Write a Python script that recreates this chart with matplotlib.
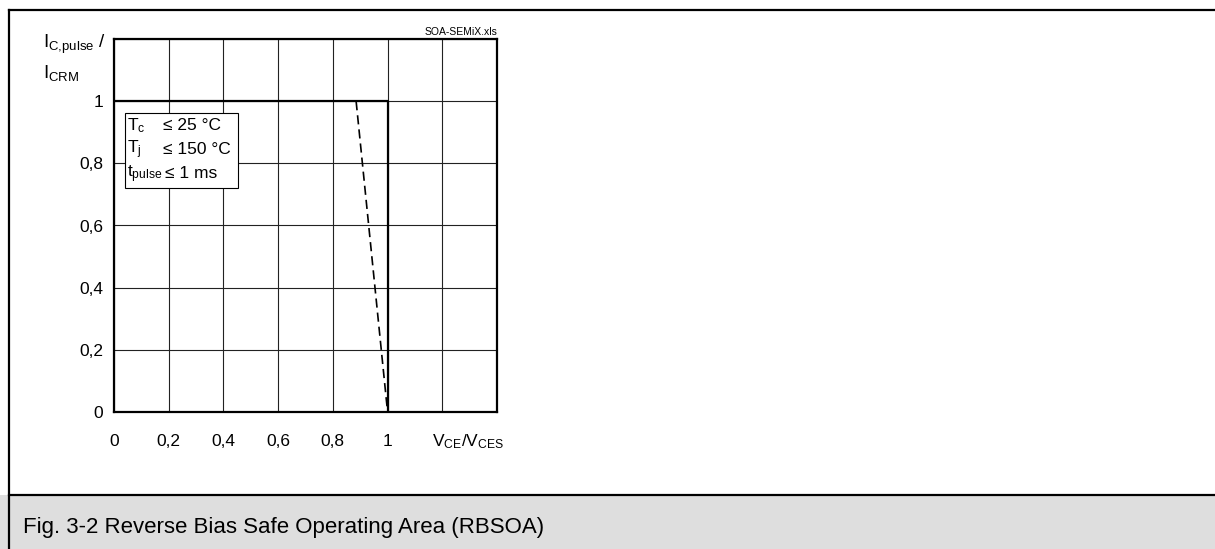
import matplotlib
matplotlib.use("Agg")
import matplotlib.pyplot as plt
from matplotlib.patches import Rectangle
from matplotlib.lines import Line2D

plt.rcParams['font.family'] = ['Liberation Sans', 'DejaVu Sans']
plt.rcParams['mathtext.fontset'] = 'custom'
plt.rcParams['mathtext.rm'] = 'Liberation Sans'
plt.rcParams['mathtext.it'] = 'Liberation Sans'

# RBSOA-Grenze (durchgezogen) und Linie (gestrichelt)
rbsoa_v = [0.0, 1.0, 1.0]
rbsoa_i = [1.0, 1.0, 0.0]
dash_v = [0.885, 1.0]
dash_i = [1.0, 0.0]

x_ticks = [0, 0.2, 0.4, 0.6, 0.8, 1.0, 1.2, 1.4]
x_labels = ["0", "0,2", "0,4", "0,6", "0,8", "1", "", ""]
y_ticks = [0, 0.2, 0.4, 0.6, 0.8, 1.0, 1.2]
y_labels = ["0", "0,2", "0,4", "0,6", "0,8", "1", ""]

W, H = 1215, 549
FS = 12.5
fig = plt.figure(figsize=(W / 100, H / 100), dpi=100)

# Rahmen und Bildunterschrift
fig.patches.append(Rectangle((0, 0), 1, 54 / H, transform=fig.transFigure,
                             facecolor="#dedede", edgecolor="none", zorder=0))
fig.lines.append(Line2D([9 / W, 1], [54 / H, 54 / H], transform=fig.transFigure,
                        color="black", lw=1.6))
fig.lines.append(Line2D([9 / W, 1], [1 - 10 / H, 1 - 10 / H], transform=fig.transFigure,
                        color="black", lw=1.6))
fig.lines.append(Line2D([9 / W, 9 / W], [0, 1 - 10 / H], transform=fig.transFigure,
                        color="black", lw=1.6))
fig.text(23 / W, 22 / H, "Fig. 3-2 Reverse Bias Safe Operating Area (RBSOA)",
         fontsize=16, va="center", ha="left")

ax = fig.add_axes([114 / W, (H - 412) / H, 383 / W, 373 / H])
ax.plot(rbsoa_v, rbsoa_i, color="black", lw=1.6, zorder=3)
ax.plot(dash_v, dash_i, color="black", lw=1.2, ls=(0, (5.5, 3)), zorder=3)

ax.set_xlim(0, 1.4)
ax.set_ylim(0, 1.2)
ax.set_xticks(x_ticks)
ax.set_xticklabels(x_labels)
ax.set_yticks(y_ticks)
ax.set_yticklabels(y_labels)
ax.tick_params(length=0, labelsize=FS)
ax.tick_params(axis="x", pad=15.5)
ax.tick_params(axis="y", pad=8)
ax.grid(True, color="#222222", lw=0.8)
ax.set_axisbelow(True)
for s in ax.spines.values():
    s.set_linewidth(1.6)

# Achsenbeschriftungen
ax.text((468 - 114) / 383, -30 / 373, r"V$_\mathregular{CE}$/V$_\mathregular{CES}$",
        transform=ax.transAxes, fontsize=FS, ha="center", va="center")
ax.text(-71 / 383, 1 - 5 / 373, r"I$_\mathregular{C{,}pulse}$ /",
        transform=ax.transAxes, fontsize=13.5, ha="left", va="center")
ax.text(-71 / 383, 1 - 34 / 373, r"I$_\mathregular{CRM}$",
        transform=ax.transAxes, fontsize=13.5, ha="left", va="center")
ax.text(1, 1 + 2 / 373, "SOA-SEMiX.xls", transform=ax.transAxes,
        fontsize=7.5, ha="right", va="bottom")

# Bedingungen
ax.add_patch(Rectangle((11 / 383, 1 - 149 / 373), 113 / 383, 75 / 373,
                       transform=ax.transAxes, facecolor="white",
                       edgecolor="black", lw=0.8, zorder=4))
cond_names = [r"T$_\mathregular{c}$", r"T$_\mathregular{j}$", r"t$_\mathregular{pulse}$"]
cond_vals = ["≤ 25 °C", "≤ 150 °C", "≤ 1 ms"]
for k, (n, v) in enumerate(zip(cond_names, cond_vals)):
    yy = 1 - (87 + 24 * k) / 373
    ax.text(13 / 383, yy, n, transform=ax.transAxes, fontsize=FS,
            ha="left", va="center", zorder=5)
    ax.text((49 + 2 * (k == 2)) / 383, yy, v, transform=ax.transAxes, fontsize=FS,
            ha="left", va="center", zorder=5)

fig.savefig("out.png", dpi=100)
